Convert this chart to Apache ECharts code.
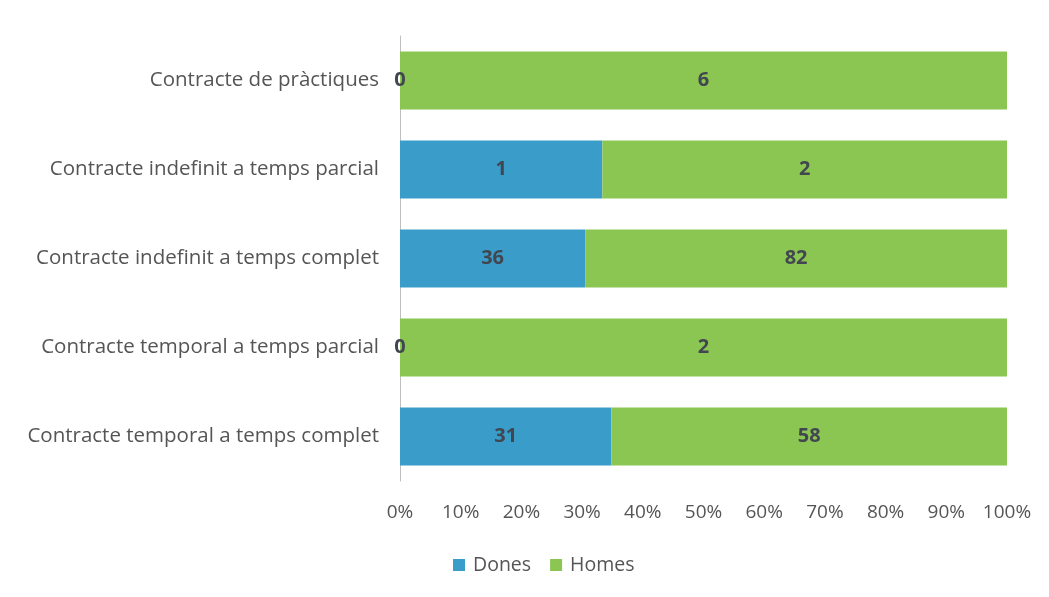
<!DOCTYPE html>
<html>
<head>
<meta charset="utf-8">
<script src="https://cdn.jsdelivr.net/npm/echarts@6/dist/echarts.min.js"></script>
<style>html,body{margin:0;padding:0;background:#fff}#c{width:1049px;height:597px}</style>
</head>
<body>
<div id="c"></div>
<script>
const categories = ['Contracte de pràctiques','Contracte indefinit a temps parcial','Contracte indefinit a temps complet','Contracte temporal a temps parcial','Contracte temporal a temps complet'];
const dones = [0, 1, 36, 0, 31];
const homes = [6, 2, 82, 2, 58];
const xTicks = ['0%','10%','20%','30%','40%','50%','60%','70%','80%','90%','100%'];

const totals = dones.map((d,i)=>d+homes[i]);
const pct = (arr)=>arr.map((v,i)=>({value: v/totals[i]*100, raw: v}));
const FONT = 'Open Sans';
const chart = echarts.init(document.getElementById('c'));
chart.setOption({
  animation:false,
  textStyle:{fontFamily:FONT},
  grid:{left:400,right:42,top:36,bottom:116},
  legend:{top:550,left:448,itemWidth:12,itemHeight:12,itemGap:19,icon:'rect',
    textStyle:{fontFamily:FONT,fontSize:19.5,color:'#555',padding:[0,0,0,3]},data:['Dones','Homes']},
  xAxis:{type:'value',min:0,max:100,interval:10,
    axisLabel:{formatter:(v)=>xTicks[Math.round(v/10)],fontFamily:FONT,fontSize:19,color:'#555',margin:22},
    axisLine:{show:false},axisTick:{show:false},splitLine:{show:false}},
  yAxis:{type:'category',data:categories,inverse:true,
    axisLine:{show:true,lineStyle:{color:'#bfbfbf',width:1}},axisTick:{show:false},
    axisLabel:{fontFamily:FONT,fontSize:20.5,color:'#555',margin:21}},
  series:[
    {name:'Dones',type:'bar',stack:'t',barCategoryGap:'35%',data:pct(dones),
     itemStyle:{color:'#3a9dc9'},
     label:{show:true,position:'inside',formatter:(p)=>p.data.raw,fontFamily:FONT,fontWeight:'bold',fontSize:20,color:'#414650'}},
    {name:'Homes',type:'bar',stack:'t',barCategoryGap:'35%',data:pct(homes),
     itemStyle:{color:'#8cc652'},
     label:{show:true,position:'inside',formatter:(p)=>p.data.raw,fontFamily:FONT,fontWeight:'bold',fontSize:20,color:'#414650'}}
  ]
});
</script>
</body>
</html>
